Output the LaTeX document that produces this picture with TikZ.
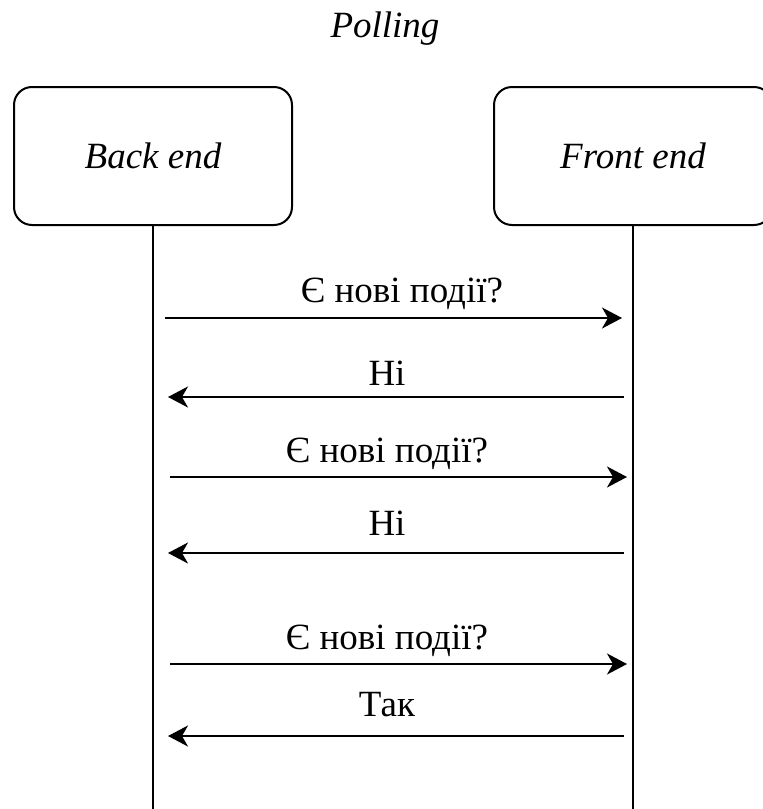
\documentclass[tikz,border=0pt]{standalone}
\usepackage{fontspec}
\setmainfont{Liberation Serif}
\usetikzlibrary{arrows.meta}

\tikzset{
    actor/.style={draw, line width=2pt, rounded corners=18pt, minimum width=278pt, minimum height=138pt, font=\fontsize{37}{44}\selectfont\itshape},
    msglabel/.style={anchor=base, inner sep=0pt, font=\fontsize{37}{44}\selectfont},
    msg/.style={line width=2pt, -{Stealth[length=20pt, width=21pt, inset=6pt]}},
    lifeline/.style={line width=2pt}
}

\begin{document}
\begin{tikzpicture}[x=1pt, y=-1pt]
    \useasboundingbox (0,0) rectangle (763,809);
    \clip (0,0) rectangle (763,809);

    \node [anchor=base, inner sep=0pt, font=\fontsize{37}{44}\selectfont\itshape] (title) at (385,37) {Polling};

    \node [actor] (back) at (153,156) {Back end};
    \node [actor] (front) at (633,156) {Front end};

    % lifelines
    \coordinate (backend) at (153,812);
    \coordinate (frontend) at (633,812);
    \draw [lifeline] (back.south) -- (backend);
    \draw [lifeline] (front.south) -- (frontend);

    \coordinate (q1a) at (165,318);
    \coordinate (q1b) at (622,318);
    \coordinate (n1a) at (624,397);
    \coordinate (n1b) at (168,397);
    \coordinate (q2a) at (170,477);
    \coordinate (q2b) at (627,477);
    \coordinate (n2a) at (624,553);
    \coordinate (n2b) at (168,553);
    \coordinate (q3a) at (170,664);
    \coordinate (q3b) at (627,664);
    \coordinate (y3a) at (624,736);
    \coordinate (y3b) at (168,736);

    \draw [msg] (q1a) -- (q1b);
    \draw [msg] (n1a) -- (n1b);
    \draw [msg] (q2a) -- (q2b);
    \draw [msg] (n2a) -- (n2b);
    \draw [msg] (q3a) -- (q3b);
    \draw [msg] (y3a) -- (y3b);

    \node [msglabel] (q1) at (402,302) {Є нові події?};
    \node [msglabel] (n1) at (387,385) {Ні};
    \node [msglabel] (q2) at (387,462) {Є нові події?};
    \node [msglabel] (n2) at (387,535) {Ні};
    \node [msglabel] (q3) at (387,649) {Є нові події?};
    \node [msglabel] (y3) at (387,716) {Так};

\end{tikzpicture}
\end{document}
